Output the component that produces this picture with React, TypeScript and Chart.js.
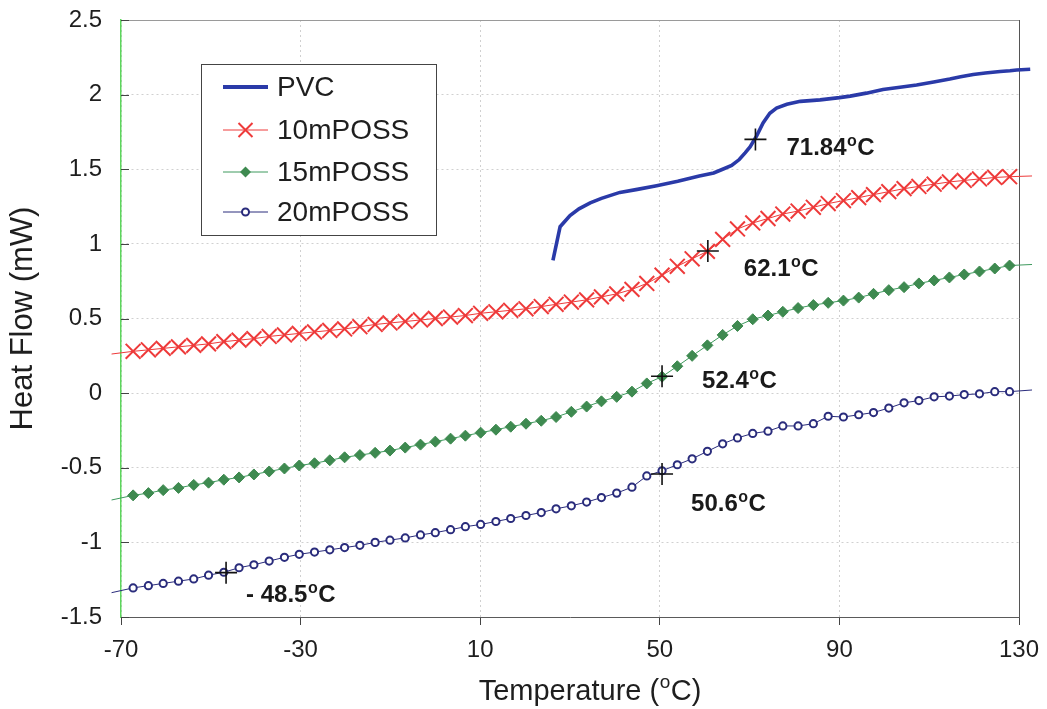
import React, { useEffect, useRef } from 'react';
import { Chart, registerables } from 'chart.js';

Chart.register(...registerables);

const FONT = '"Liberation Sans", Arial, Helvetica, sans-serif';

// ---- axis ticks ----
const xTickValues = [-70, -30, 10, 50, 90, 130];
const yTickValues = [-1.5, -1, -0.5, 0, 0.5, 1, 1.5, 2, 2.5];

// ---- series ----
const seriesLabels = ['PVC', '10mPOSS', '15mPOSS', '20mPOSS'];

const pvcTemps = [26.2, 27.8, 30.0, 32.0, 34.5, 37.0, 41.1, 45.0, 49.3, 54.0, 58.8, 62.0, 64.0, 66.0, 67.7, 69.0, 70.1, 71.6, 73.0, 74.5, 76.0, 78.3, 81.3, 85.7, 90.0, 92.4, 96.0, 99.7, 103.5, 107.2, 111.0, 114.6, 117.0, 119.8, 122.5, 125.8, 128.0, 129.5, 132.5];
const pvcFlow = [0.89, 1.115, 1.19, 1.235, 1.275, 1.305, 1.345, 1.365, 1.39, 1.42, 1.455, 1.475, 1.5, 1.525, 1.565, 1.61, 1.65, 1.725, 1.81, 1.875, 1.91, 1.935, 1.955, 1.965, 1.98, 1.99, 2.01, 2.035, 2.05, 2.065, 2.085, 2.105, 2.12, 2.135, 2.145, 2.155, 2.16, 2.165, 2.17];

const markerTemps = [-67.3, -63.9, -60.6, -57.2, -53.8, -50.5, -47.1, -43.7, -40.4, -37.0, -33.6, -30.3, -26.9, -23.5, -20.2, -16.8, -13.4, -10.1, -6.7, -3.3, 0.0, 3.4, 6.7, 10.1, 13.5, 16.8, 20.2, 23.6, 26.9, 30.3, 33.7, 37.0, 40.4, 43.8, 47.1, 50.5, 53.9, 57.2, 60.6, 64.0, 67.3, 70.7, 74.1, 77.4, 80.8, 84.2, 87.5, 90.9, 94.3, 97.6, 101.0, 104.4, 107.7, 111.1, 114.5, 117.8, 121.2, 124.6, 127.9];
const lineEdgeTemps = [-72.1, 132.9];

const poss10Flow = [0.28, 0.29, 0.30, 0.31, 0.32, 0.33, 0.345, 0.355, 0.365, 0.38, 0.39, 0.40, 0.41, 0.42, 0.43, 0.445, 0.46, 0.47, 0.48, 0.49, 0.50, 0.51, 0.52, 0.535, 0.545, 0.555, 0.565, 0.58, 0.595, 0.61, 0.625, 0.645, 0.665, 0.695, 0.735, 0.79, 0.85, 0.90, 0.95, 1.03, 1.10, 1.14, 1.17, 1.20, 1.22, 1.245, 1.27, 1.29, 1.31, 1.33, 1.35, 1.37, 1.385, 1.40, 1.415, 1.425, 1.435, 1.445, 1.45];
const poss10Edges = [0.262, 1.455];

const poss15Flow = [-0.685, -0.67, -0.65, -0.635, -0.615, -0.60, -0.58, -0.565, -0.545, -0.525, -0.505, -0.485, -0.47, -0.45, -0.43, -0.415, -0.40, -0.385, -0.365, -0.345, -0.325, -0.305, -0.285, -0.265, -0.245, -0.225, -0.205, -0.185, -0.16, -0.125, -0.09, -0.055, -0.025, 0.01, 0.065, 0.11, 0.18, 0.25, 0.32, 0.39, 0.45, 0.495, 0.52, 0.545, 0.57, 0.59, 0.605, 0.62, 0.64, 0.665, 0.69, 0.71, 0.735, 0.755, 0.775, 0.795, 0.815, 0.835, 0.855];
const poss15Edges = [-0.716, 0.862];

const poss20Flow = [-1.305, -1.29, -1.275, -1.26, -1.245, -1.22, -1.20, -1.17, -1.15, -1.125, -1.10, -1.08, -1.065, -1.05, -1.035, -1.02, -1.0, -0.985, -0.97, -0.95, -0.935, -0.915, -0.895, -0.88, -0.86, -0.84, -0.82, -0.80, -0.775, -0.755, -0.73, -0.70, -0.67, -0.63, -0.555, -0.52, -0.48, -0.44, -0.39, -0.34, -0.30, -0.27, -0.255, -0.22, -0.22, -0.205, -0.155, -0.16, -0.145, -0.13, -0.10, -0.065, -0.05, -0.025, -0.02, -0.01, -0.005, 0.01, 0.01];
const poss20Edges = [-1.337, 0.021];

// ---- glass transition marks ----
const transitionText = ['71.84', '62.1', '52.4', '50.6', '- 48.5'];
const transitionTemps = [71.3, 60.7, 50.5, 50.5, -46.6];
const transitionFlow = [1.70, 0.952, 0.113, -0.542, -1.203];

// label offsets from the "+" mark (pixels)
const labelOffsets = [
  [31, 7],
  [36, 16],
  [40, 3],
  [29, 28],
  [20, 21],
];

const COLORS = {
  pvc: '#2a3aa8',
  p10: '#ee3a3a',
  p15line: '#3f9a5e',
  p15fill: '#3e8a50',
  p20: '#2a2c7c',
};

const toPoints = (xs: number[], ys: number[]) => xs.map((x, i) => ({ x, y: ys[i] }));
const withEdges = (vals: number[], edges: number[]) => [
  { x: lineEdgeTemps[0], y: edges[0] },
  ...toPoints(markerTemps, vals),
  { x: lineEdgeTemps[1], y: edges[1] },
];
const edgeless = (r: number) => (ctx: any) =>
  ctx.dataIndex === 0 || ctx.dataIndex === ctx.dataset.data.length - 1 ? 0 : r;

const CLIP = { left: 16, top: 4, right: 16, bottom: 4 };

function drawX(ctx: CanvasRenderingContext2D, x: number, y: number, h: number, color: string) {
  ctx.save();
  ctx.strokeStyle = color;
  ctx.lineWidth = 2;
  ctx.beginPath();
  ctx.moveTo(x - h, y - h);
  ctx.lineTo(x + h, y + h);
  ctx.moveTo(x + h, y - h);
  ctx.lineTo(x - h, y + h);
  ctx.stroke();
  ctx.restore();
}

function drawSupText(
  ctx: CanvasRenderingContext2D,
  parts: { t: string; sup?: boolean }[],
  x: number,
  baseline: number,
  font: (sup: boolean) => string,
  supRise: number,
  align: 'left' | 'center'
) {
  ctx.save();
  ctx.textBaseline = 'alphabetic';
  ctx.textAlign = 'left';
  let total = 0;
  const widths = parts.map((p) => {
    ctx.font = font(!!p.sup);
    const w = ctx.measureText(p.t).width + (p.sup ? 1 : 0);
    total += w;
    return w;
  });
  let cx = align === 'center' ? x - total / 2 : x;
  parts.forEach((p, i) => {
    ctx.font = font(!!p.sup);
    ctx.fillText(p.t, cx + (p.sup ? 0.5 : 0), p.sup ? baseline - supRise : baseline);
    cx += widths[i];
  });
  ctx.restore();
}

const overlayPlugin = {
  id: 'overlay',
  beforeDraw(chart: any) {
    const { ctx, width, height } = chart;
    ctx.save();
    ctx.fillStyle = '#ffffff';
    ctx.fillRect(0, 0, width, height);
    ctx.restore();
  },
  beforeDatasetsDraw(chart: any) {
    const { ctx, chartArea: a, scales } = chart;
    ctx.save();
    ctx.lineWidth = 1;
    ctx.strokeStyle = '#9a9a9a';
    ctx.beginPath();
    ctx.moveTo(a.left, a.top + 0.5);
    ctx.lineTo(a.right, a.top + 0.5);
    ctx.stroke();
    ctx.strokeStyle = '#555555';
    ctx.beginPath();
    ctx.moveTo(a.right + 0.5, a.top);
    ctx.lineTo(a.right + 0.5, a.bottom);
    ctx.stroke();
    ctx.strokeStyle = '#444444';
    yTickValues.forEach((v) => {
      const y = Math.round(scales.y.getPixelForValue(v)) + 0.5;
      ctx.beginPath();
      ctx.moveTo(a.left, y);
      ctx.lineTo(a.left + 8, y);
      ctx.stroke();
    });
    ctx.restore();
  },
  afterDatasetsDraw(chart: any) {
    const { ctx, chartArea: a, scales } = chart;

    // transition labels
    ctx.save();
    ctx.fillStyle = '#1a1a1a';
    transitionText.forEach((t, i) => {
      const px = scales.x.getPixelForValue(transitionTemps[i]);
      const py = scales.y.getPixelForValue(transitionFlow[i]);
      const [dx, dy] = labelOffsets[i];
      drawSupText(
        ctx,
        [{ t }, { t: 'o', sup: true }, { t: 'C' }],
        px + dx,
        py + dy + 8.6,
        (sup) => `bold ${sup ? 16 : 24}px ${FONT}`,
        9,
        'left'
      );
    });
    ctx.restore();

    // legend
    const L = { left: 201, top: 64, width: 235, height: 171, s0: 223, s1: 268, tx: 277, rows: [87, 130, 172, 212] };
    ctx.save();
    ctx.fillStyle = '#ffffff';
    ctx.fillRect(L.left, L.top, L.width, L.height);
    ctx.strokeStyle = '#444444';
    ctx.lineWidth = 1;
    ctx.strokeRect(L.left + 0.5, L.top + 0.5, L.width, L.height);
    const mid = (L.s0 + L.s1) / 2;
    seriesLabels.forEach((label, i) => {
      const y = L.rows[i];
      ctx.save();
      ctx.beginPath();
      if (i === 0) {
        ctx.strokeStyle = COLORS.pvc;
        ctx.lineWidth = 4;
      } else {
        ctx.strokeStyle = i === 1 ? COLORS.p10 : i === 2 ? COLORS.p15line : COLORS.p20;
        ctx.lineWidth = 1;
      }
      ctx.moveTo(L.s0, y);
      ctx.lineTo(L.s1, y);
      ctx.stroke();
      if (i === 1) drawX(ctx, mid, y, 7, COLORS.p10);
      if (i === 2) {
        ctx.fillStyle = COLORS.p15fill;
        ctx.beginPath();
        ctx.moveTo(mid - 5.5, y);
        ctx.lineTo(mid, y - 5.5);
        ctx.lineTo(mid + 5.5, y);
        ctx.lineTo(mid, y + 5.5);
        ctx.closePath();
        ctx.fill();
      }
      if (i === 3) {
        ctx.fillStyle = '#ffffff';
        ctx.strokeStyle = COLORS.p20;
        ctx.lineWidth = 2;
        ctx.beginPath();
        ctx.arc(mid, y, 3.5, 0, Math.PI * 2);
        ctx.fill();
        ctx.stroke();
      }
      ctx.restore();
      ctx.fillStyle = '#1e1e1e';
      ctx.font = `28px ${FONT}`;
      ctx.textBaseline = 'middle';
      ctx.textAlign = 'left';
      ctx.fillText(label, L.tx, y + 1);
    });
    ctx.restore();

    // x axis title
    ctx.save();
    ctx.fillStyle = '#1e1e1e';
    drawSupText(
      ctx,
      [{ t: 'Temperature (' }, { t: 'o', sup: true }, { t: 'C)' }],
      (a.left + a.right) / 2 + 20,
      700,
      (sup) => `${sup ? 19 : 29}px ${FONT}`,
      12,
      'center'
    );
    ctx.restore();
  },
};

export default function App() {
  const ref = useRef<HTMLCanvasElement>(null);

  useEffect(() => {
    if (!ref.current) return;
    const chart = new Chart(ref.current, {
      type: 'line',
      data: {
        datasets: [
          {
            label: 'Tg marks',
            data: toPoints(transitionTemps, transitionFlow),
            showLine: false,
            pointStyle: 'cross',
            pointRadius: 11,
            pointBorderWidth: 1.6,
            pointBorderColor: '#111111',
            pointBackgroundColor: '#111111',
            borderColor: '#111111',
            order: -1,
          },
          {
            label: seriesLabels[0],
            data: toPoints(pvcTemps, pvcFlow),
            borderColor: COLORS.pvc,
            borderWidth: 3.6,
            pointRadius: 0,
            tension: 0,
            clip: CLIP,
          },
          {
            label: seriesLabels[1],
            data: withEdges(poss10Flow, poss10Edges),
            borderColor: COLORS.p10,
            borderWidth: 1,
            pointStyle: 'crossRot',
            pointRadius: edgeless(10.5),
            pointBorderWidth: 2,
            pointBorderColor: COLORS.p10,
            pointBackgroundColor: COLORS.p10,
            tension: 0,
            clip: CLIP,
          },
          {
            label: seriesLabels[2],
            data: withEdges(poss15Flow, poss15Edges),
            borderColor: COLORS.p15line,
            borderWidth: 1,
            pointStyle: 'rectRot',
            pointRadius: edgeless(5.5),
            pointBorderWidth: 1,
            pointBorderColor: COLORS.p15fill,
            pointBackgroundColor: COLORS.p15fill,
            tension: 0,
            clip: CLIP,
          },
          {
            label: seriesLabels[3],
            data: withEdges(poss20Flow, poss20Edges),
            borderColor: COLORS.p20,
            borderWidth: 1,
            pointStyle: 'circle',
            pointRadius: edgeless(3.6),
            pointBorderWidth: 2,
            pointBorderColor: COLORS.p20,
            pointBackgroundColor: '#ffffff',
            tension: 0,
            clip: CLIP,
          },
        ] as any,
      },
      options: {
        responsive: false,
        animation: false,
        events: [],
        layout: { padding: { top: 20, right: 28, left: 0, bottom: 0 } },
        plugins: {
          legend: { display: false },
          tooltip: { enabled: false },
          title: { display: false },
        },
        scales: {
          x: {
            type: 'linear',
            min: -70,
            max: 130,
            afterBuildTicks: (s: any) => {
              s.ticks = xTickValues.map((v) => ({ value: v }));
            },
            afterFit: (s: any) => {
              s.height = 92;
              s.paddingLeft = 0;
              s.paddingRight = 0;
            },
            grid: {
              color: '#d0d0d0',
              lineWidth: 1,
              drawTicks: true,
              tickLength: 8,
              tickColor: '#444444',
              tickWidth: 1,
            },
            border: { display: true, color: '#5a5a5a', width: 1, dash: [2, 3] },
            ticks: {
              font: { family: FONT, size: 24 },
              color: '#1e1e1e',
              padding: 11,
              maxRotation: 0,
              autoSkip: false,
              callback: (v: any) => String(v),
            },
          },
          y: {
            type: 'linear',
            min: -1.5,
            max: 2.5,
            afterBuildTicks: (s: any) => {
              s.ticks = yTickValues.map((v) => ({ value: v }));
            },
            afterFit: (s: any) => {
              s.width = 121;
              s.paddingTop = 0;
              s.paddingBottom = 0;
            },
            grid: { color: '#d0d0d0', lineWidth: 1, drawTicks: false },
            border: { display: true, color: '#5cd65c', width: 1.5, dash: [2, 3] },
            ticks: {
              font: { family: FONT, size: 24 },
              color: '#1e1e1e',
              padding: 19,
              autoSkip: false,
              callback: (v: any) => String(v),
            },
            title: {
              display: true,
              text: 'Heat Flow (mW)',
              font: { family: FONT, size: 31 },
              color: '#1e1e1e',
              padding: { top: 5, bottom: 0 },
            },
          },
        },
      } as any,
      plugins: [overlayPlugin],
    });
    return () => chart.destroy();
  }, []);

  return (
    <div style={{ position: 'fixed', left: 0, top: 0, width: 1047, height: 709, background: '#fff' }}>
      <canvas ref={ref} width={1047} height={709} style={{ display: 'block', width: 1047, height: 709 }} />
    </div>
  );
}
